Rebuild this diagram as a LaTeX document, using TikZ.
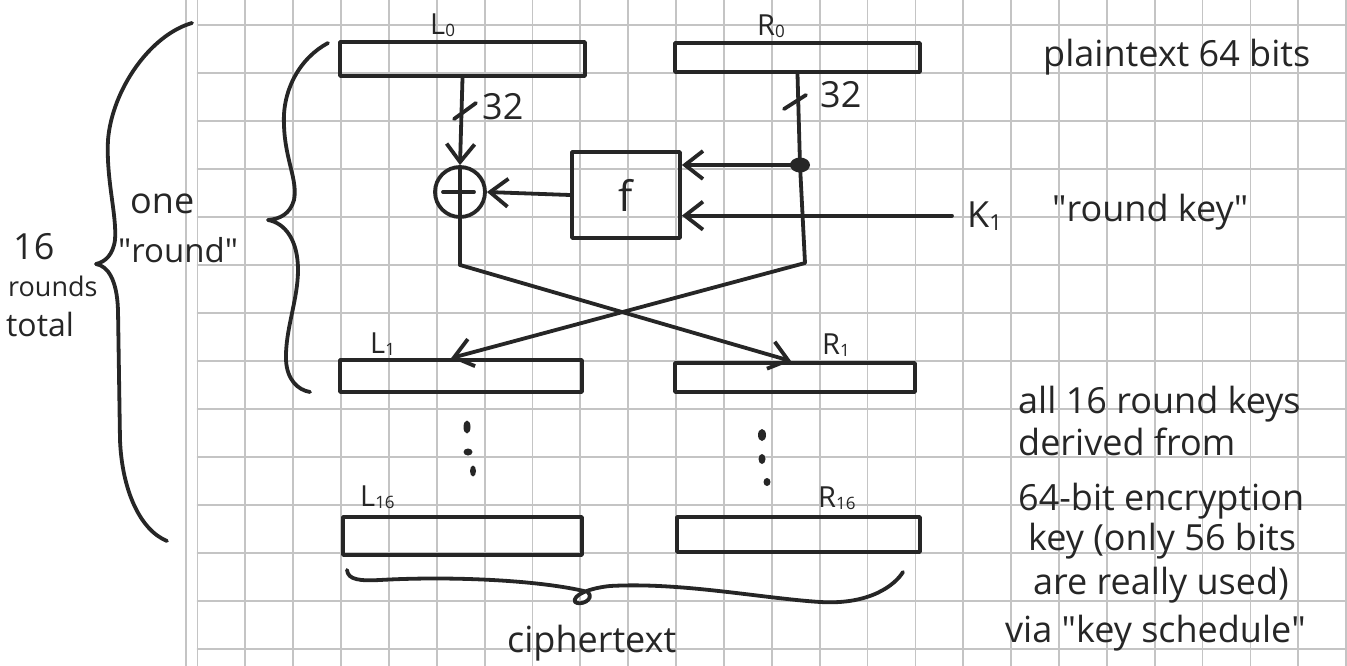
\documentclass[tikz,border=0pt]{standalone}
\usepackage{fontspec}
\setmainfont{Open Sans}
\usetikzlibrary{arrows.meta,shapes.geometric}
\definecolor{ink}{HTML}{262626}
\definecolor{gridc}{HTML}{C4C4C4}
\newcommand\mysub[1]{{\fontsize{17}{17}\selectfont\raisebox{-2pt}{#1}}}
\newcommand\bigsub[1]{{\fontsize{22}{22}\selectfont\raisebox{-3pt}{#1}}}
\newcommand\dq{\textquotedbl}
\begin{document}
\begin{tikzpicture}[x=1pt,y=-1pt,line cap=round,line join=round,
  gridline/.style={draw=gridc,line width=1.8pt},
  inkline/.style={draw=ink,line width=3.8pt},
  regbox/.style={inkline,rectangle,inner sep=0pt},
  arr/.style={inkline,-{Straight Barb[length=18pt,width=28pt]}},
  lbl/.style={text=ink,inner sep=0pt,anchor=base west},
  txt/.style={lbl,font=\fontsize{36}{44}\selectfont},
  bl/.style={lbl,font=\fontsize{29}{34}\selectfont}]
\useasboundingbox[fill=white] (0,0) rectangle (1347,666);
% graph paper
\draw[gridline] (186,0) -- (186,666);
\foreach \i in {0,...,24} \draw[gridline] ({197.5+47.86*\i},0) -- ({197.5+47.86*\i},666);
\foreach \j in {0,...,13} \draw[gridline] (197.5,{25+48*\j}) -- (1347,{25+48*\j});
% registers
\node[regbox,minimum width=245pt,minimum height=34pt] (L0) at (462.5,59) {};
\node[regbox,minimum width=245pt,minimum height=29pt] (R0) at (797.5,57.5) {};
\node[regbox,minimum width=242pt,minimum height=32pt] (L1) at (461,376) {};
\node[regbox,minimum width=240pt,minimum height=29pt] (R1) at (795,377.5) {};
\node[regbox,minimum width=239pt,minimum height=38pt] (L16) at (462.5,536) {};
\node[regbox,minimum width=243pt,minimum height=35pt] (R16) at (798.5,534.5) {};
% register labels
\node[bl] (lL0) at (430,35) {L\mysub{0}};
\node[bl] (lR0) at (757,36) {R\mysub{0}};
\node[bl] (lL1) at (370,353) {L\mysub{1}};
\node[bl] (lR1) at (822,354) {R\mysub{1}};
\node[bl] (lL16) at (360,506) {L\mysub{16}};
\node[bl] (lR16) at (818,507) {R\mysub{16}};
% round function
\node[regbox,minimum width=108pt,minimum height=86pt,font=\fontsize{42}{42}\selectfont,text=ink] (f) at (626,195) {f};
\node[inkline,circle,minimum size=50pt,inner sep=0pt] (xor) at (460,192) {};
\draw[inkline] (460,168) -- (460,216);
\draw[inkline] (443,192) -- (474,192);
\node[ellipse,fill=ink,minimum width=20pt,minimum height=15pt,inner sep=0pt] (dot) at (800,165) {};
% key input
\node[txt] (K1) at (967,227) {K\bigsub{1}};
\node[txt] (rk) at (1052,222) {\dq round key\dq};
% connectors
\draw[arr] (L0.south) -- (xor.north);
\draw[inkline] (R0.south) -- (dot.center);
\draw[arr] (dot.center) -- (f.east |- dot.center);
\draw[arr] ([xshift=-15pt]K1.west) -- (f.east |- K1.west);
\draw[arr] (f.west) -- (xor.east);
\coordinate (lb) at (460,265);
\coordinate (rb) at (805,263);
\draw[inkline] (xor.south) -- (lb);
\draw[inkline] (dot.center) -- (rb);
\draw[arr] (lb) -- ([xshift=118pt]R1.north west);
\draw[arr] (rb) -- ([xshift=113pt]L1.north west);
% bit-width ticks
\draw[inkline] (454,119) -- (476,103);
\draw[inkline] (784,109) -- (806,95);
\node[txt] (w1) at (482,120) {32};
\node[txt] (w2) at (820,108) {32};
% vertical ellipses
\fill[ink] (467,427) ellipse (3.5 and 6.5);
\fill[ink] (468,452) ellipse (4.5 and 3.5);
\fill[ink] (473,471) ellipse (3 and 5.5);
\fill[ink] (762,435) ellipse (4 and 6);
\fill[ink] (762,459) ellipse (3.5 and 5);
\fill[ink] (767,482) ellipse (3.5 and 4);
% braces
\draw[inkline] (192,23) .. controls (150,35) and (112,90) .. (108,140)
  .. controls (106,180) and (117,215) .. (115,240)
  .. controls (113,255) and (105,262) .. (96,264)
  .. controls (108,266) and (117,280) .. (118,310) -- (120,440)
  .. controls (122,490) and (140,530) .. (167,541);
\draw[inkline] (328,43) .. controls (300,58) and (282,90) .. (284,125)
  .. controls (285,160) and (298,180) .. (294,200)
  .. controls (290,214) and (280,219) .. (268,220)
  .. controls (285,223) and (298,240) .. (298,270)
  .. controls (298,300) and (285,330) .. (286,360)
  .. controls (287,380) and (298,390) .. (310,392);
\draw[inkline] (347,570) .. controls (348,580) and (360,581) .. (380,580)
  .. controls (450,576) and (540,580) .. (588,592)
  .. controls (595,600) and (580,606) .. (575,602)
  .. controls (572,595) and (590,588) .. (610,586)
  .. controls (680,582) and (760,598) .. (820,602)
  .. controls (870,605) and (895,585) .. (903,572);
% side texts
\node[lbl,font=\fontsize{36}{40}\selectfont] (t16) at (13,259) {16};
\node[lbl,font=\fontsize{27}{30}\selectfont] (trd) at (8,296) {rounds};
\node[lbl,font=\fontsize{32}{34}\selectfont] (ttot) at (6,336) {total};
\node[txt] (one) at (130,213) {one};
\node[lbl,font=\fontsize{33}{40}\selectfont] (rnd) at (118,262) {\dq round\dq};
\node[txt] (pt) at (1043,67) {plaintext 64 bits};
\node[txt] (ct) at (507,652) {ciphertext};
\node[txt] (p1) at (1018,413) {all 16 round keys};
\node[txt] (p2) at (1018,455) {derived from};
\node[txt] (p3) at (1018,510) {64-bit encryption};
\node[txt] (p4) at (1028,550) {key (only 56 bits};
\node[txt] (p5) at (1033,594) {are really used)};
\node[txt] (p6) at (1005,642) {via \dq key schedule\dq};
\end{tikzpicture}
\end{document}
